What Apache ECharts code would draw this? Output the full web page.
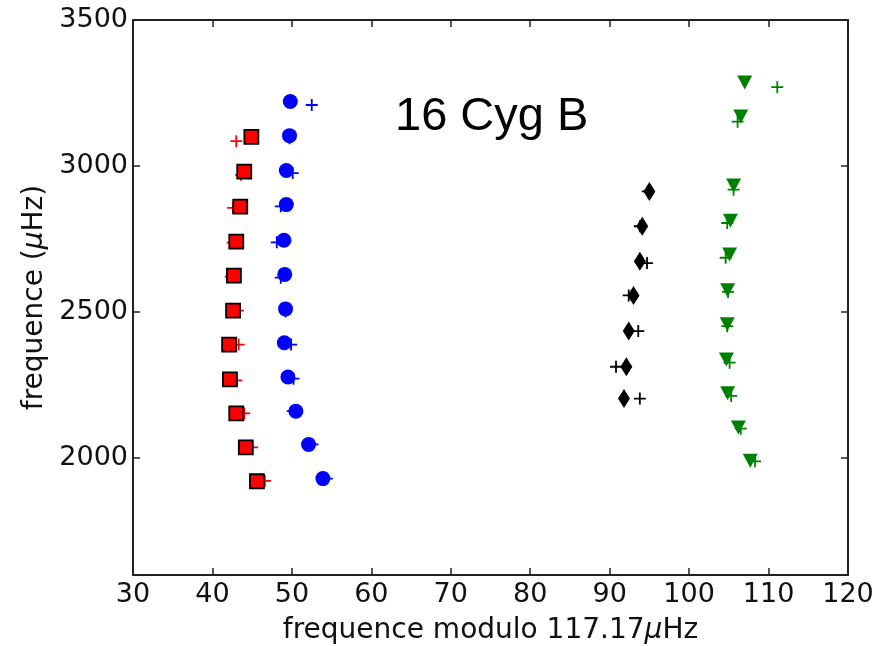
<!DOCTYPE html>
<html>
<head>
<meta charset="utf-8">
<script src="https://cdn.jsdelivr.net/npm/echarts@6/dist/echarts.min.js"></script>
<style>html,body{margin:0;padding:0;background:#fff}#c{width:889px;height:646px}</style>
</head>
<body>
<div id="c"></div>
<script>
// ---- data ----
const redSqX   = [44.9, 44.0, 43.5, 43.0, 42.7, 42.6, 42.1, 42.2, 43.0, 44.2, 45.6];
const redSqY   = [3100, 2981, 2861, 2741, 2625, 2505, 2389, 2270, 2153, 2037, 1921];
const redPlusX = [43.0, 43.6, 42.6, 42.55, 42.3, 43.2, 43.3, 43.0, 44.0, 45.0, 46.6];
const redPlusY = [3085, 2970, 2857, 2738, 2621, 2505, 2389, 2266, 2153, 2037, 1922];

const blueX     = [49.8, 49.7, 49.3, 49.3, 49.0, 49.1, 49.2, 49.05, 49.5, 50.5, 52.1, 53.9];
const blueY     = [3221, 3104, 2985, 2868, 2746, 2629, 2511, 2395, 2278, 2161, 2047, 1930];
const bluePlusX = [52.5, 49.7, 50.1, 48.6, 48.1, 48.6, 49.2, 49.9, 50.2, 50.1, 52.6, 54.4];
const bluePlusY = [3209, 3095, 2976, 2862, 2739, 2618, 2502, 2389, 2272, 2161, 2047, 1930];

const blackX     = [95.0, 94.1, 93.8, 93.0, 92.4, 92.1, 91.8];
const blackY     = [2913, 2794, 2674, 2557, 2435, 2313, 2204];
const blackPlusX = [94.8, 93.8, 94.7, 92.4, 93.6, 90.8, 93.8];
const blackPlusY = [2913, 2794, 2668, 2557, 2435, 2313, 2204];

const greenX     = [107.0, 106.5, 105.6, 105.2, 105.1, 104.85, 104.8, 104.7, 104.85, 106.2, 107.7];
const greenY     = [3286, 3170, 2933, 2813, 2697, 2575, 2458, 2338, 2222, 2105, 1991];
const greenPlusX = [111.1, 106.1, 105.6, 104.8, 104.6, 104.9, 104.8, 105.1, 105.3, 106.5, 108.3];
const greenPlusY = [3270, 3152, 2919, 2805, 2686, 2569, 2452, 2327, 2213, 2101, 1989];

const yTicks = [2000, 2500, 3000, 3500];
const titleText = '16 Cyg B';

const zip = (xs, ys) => xs.map((x, i) => [x, ys[i]]);
const PLUS = 'path://M0,5.1H12V6.9H0Z M5.1,0H6.9V12H5.1Z';
const FONT = 'DejaVu Sans';
const AX = '#222';

function plus(xs, ys, color) {
  return { type: 'scatter', data: zip(xs, ys), symbol: PLUS, symbolSize: 12,
    itemStyle: { color: color, opacity: 1 }, z: 2, silent: true };
}

const chart = echarts.init(document.getElementById('c'));
chart.setOption({
  animation: false,
  backgroundColor: '#fff',
  grid: { left: 133, right: 41, top: 20, bottom: 71, containLabel: false, outerBoundsMode: 'none' },
  xAxis: [{
    type: 'value', min: 30, max: 120, interval: 10, position: 'bottom',
    axisLine: { show: true, onZero: false, lineStyle: { color: AX, width: 2 } },
    axisTick: { show: true, inside: true, length: 7, lineStyle: { color: AX, width: 1.5 } },
    axisLabel: { color: '#111', fontFamily: FONT, fontSize: 27, margin: 6 },
    splitLine: { show: false },
    name: 'frequence modulo 117.17{i|μ}Hz', nameLocation: 'middle', nameGap: 42,
    nameTextStyle: { color: '#111', fontFamily: FONT, fontSize: 28,
      rich: { i: { fontStyle: 'italic', fontFamily: FONT, fontSize: 28, color: '#111' } } }
  }, {
    type: 'value', min: 30, max: 120, interval: 10, position: 'top',
    axisLine: { show: true, onZero: false, lineStyle: { color: AX, width: 2 } },
    axisTick: { show: true, inside: true, length: 7, lineStyle: { color: AX, width: 1.5 } },
    axisLabel: { show: false }, splitLine: { show: false }
  }],
  yAxis: [{
    type: 'value', min: 1600, max: 3500, position: 'left',
    axisLine: { show: true, onZero: false, lineStyle: { color: AX, width: 2 } },
    axisTick: { show: true, inside: true, length: 7, customValues: yTicks, lineStyle: { color: AX, width: 1.5 } },
    axisLabel: { color: '#111', fontFamily: FONT, fontSize: 27, margin: 5, customValues: yTicks,
      formatter: v => String(v) },
    splitLine: { show: false },
    name: 'frequence ({i|μ}Hz)', nameLocation: 'middle', nameGap: 79,
    nameTextStyle: { color: '#111', fontFamily: FONT, fontSize: 28,
      rich: { i: { fontStyle: 'italic', fontFamily: FONT, fontSize: 28, color: '#111' } } }
  }, {
    type: 'value', min: 1600, max: 3500, position: 'right',
    axisLine: { show: true, onZero: false, lineStyle: { color: AX, width: 2 } },
    axisTick: { show: true, inside: true, length: 7, customValues: yTicks, lineStyle: { color: AX, width: 1.5 } },
    axisLabel: { show: false }, splitLine: { show: false }
  }],
  graphic: [{
    type: 'text', z: 100, x: 395, y: 94,
    style: { text: titleText, fill: '#000', font: '47px "Liberation Sans"' }
  }],
  series: [
    plus(redPlusX, redPlusY, '#ff0000'),
    plus(bluePlusX, bluePlusY, '#0000ff'),
    plus(blackPlusX, blackPlusY, '#000000'),
    plus(greenPlusX, greenPlusY, '#008000'),
    { type: 'scatter', data: zip(redSqX, redSqY), symbol: 'rect', symbolSize: 14,
      itemStyle: { color: '#ff0000', borderColor: '#000', borderWidth: 1.8, opacity: 1 }, z: 3 },
    { type: 'scatter', data: zip(blueX, blueY), symbol: 'circle', symbolSize: 15,
      itemStyle: { color: '#0000ff', opacity: 1 }, z: 3 },
    { type: 'scatter', data: zip(blackX, blackY), symbol: 'diamond', symbolSize: [12, 19],
      itemStyle: { color: '#000000', opacity: 1 }, z: 3 },
    { type: 'scatter', data: zip(greenX, greenY), symbol: 'triangle', symbolRotate: 180, symbolSize: [15, 14],
      itemStyle: { color: '#008000', opacity: 1 }, z: 3 }
  ]
});
</script>
</body>
</html>
